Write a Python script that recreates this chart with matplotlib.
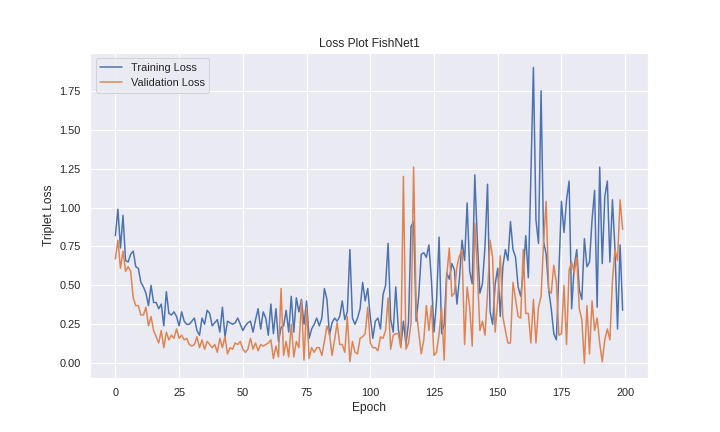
import matplotlib
matplotlib.use("Agg")
import matplotlib.pyplot as plt
import seaborn as sns
import numpy as np

train_loss = [
    0.82, 0.99, 0.74, 0.95, 0.66, 0.65, 0.70, 0.72, 0.62, 0.61,
    0.52, 0.49, 0.45, 0.37, 0.50, 0.39, 0.39, 0.35, 0.38, 0.24,
    0.46, 0.32, 0.31, 0.33, 0.30, 0.24, 0.33, 0.27, 0.25, 0.25,
    0.27, 0.29, 0.21, 0.18, 0.29, 0.25, 0.34, 0.32, 0.24, 0.26,
    0.28, 0.20, 0.36, 0.17, 0.27, 0.26, 0.25, 0.26, 0.29, 0.25,
    0.21, 0.24, 0.26, 0.27, 0.20, 0.28, 0.35, 0.22, 0.33, 0.29,
    0.18, 0.38, 0.19, 0.35, 0.14, 0.23, 0.24, 0.34, 0.20, 0.43,
    0.20, 0.42, 0.33, 0.41, 0.25, 0.40, 0.16, 0.22, 0.25, 0.29,
    0.24, 0.29, 0.48, 0.41, 0.18, 0.26, 0.29, 0.27, 0.30, 0.40,
    0.28, 0.33, 0.73, 0.29, 0.25, 0.29, 0.35, 0.52, 0.40, 0.48,
    0.30, 0.16, 0.27, 0.29, 0.22, 0.44, 0.50, 0.77, 0.28, 0.20,
    0.49, 0.22, 0.11, 0.27, 0.12, 0.26, 0.88, 0.91, 0.27, 0.43,
    0.70, 0.71, 0.68, 0.76, 0.53, 0.20, 0.40, 0.81, 0.19, 0.25,
    0.58, 0.54, 0.64, 0.60, 0.38, 0.55, 0.79, 0.66, 1.03, 0.59,
    0.51, 1.21, 0.79, 0.45, 0.51, 0.75, 1.15, 0.33, 0.25, 0.51,
    0.61, 0.30, 0.62, 0.73, 0.66, 0.91, 0.73, 0.68, 0.49, 0.43,
    0.58, 0.82, 0.55, 1.20, 1.90, 0.92, 0.77, 1.75, 0.78, 0.70,
    0.47, 0.35, 0.19, 0.15, 0.60, 1.04, 0.84, 1.05, 1.17, 0.35,
    0.62, 0.73, 0.47, 0.41, 0.80, 0.62, 0.65, 0.92, 1.11, 0.36,
    1.26, 0.64, 1.07, 1.17, 0.65, 1.05, 0.73, 0.22, 0.76, 0.34,
]

val_loss = [
    0.67, 0.79, 0.61, 0.72, 0.59, 0.62, 0.59, 0.42, 0.37, 0.37,
    0.31, 0.31, 0.36, 0.24, 0.30, 0.21, 0.17, 0.13, 0.21, 0.10,
    0.20, 0.15, 0.18, 0.16, 0.22, 0.16, 0.18, 0.15, 0.16, 0.12,
    0.11, 0.12, 0.17, 0.10, 0.15, 0.09, 0.14, 0.12, 0.10, 0.12,
    0.07, 0.16, 0.10, 0.17, 0.06, 0.10, 0.09, 0.13, 0.12, 0.14,
    0.09, 0.07, 0.09, 0.16, 0.09, 0.13, 0.08, 0.12, 0.11, 0.12,
    0.13, 0.15, 0.03, 0.11, 0.04, 0.48, 0.05, 0.14, 0.04, 0.25,
    0.04, 0.14, 0.10, 0.40, 0.02, 0.36, 0.03, 0.10, 0.07, 0.10,
    0.10, 0.05, 0.14, 0.24, 0.19, 0.05, 0.15, 0.26, 0.12, 0.12,
    0.07, 0.30, 0.01, 0.14, 0.07, 0.06, 0.16, 0.17, 0.19, 0.36,
    0.13, 0.10, 0.10, 0.08, 0.17, 0.16, 0.21, 0.42, 0.09, 0.18,
    0.19, 0.19, 0.10, 1.20, 0.09, 0.13, 0.26, 1.26, 0.35, 0.20,
    0.06, 0.15, 0.37, 0.21, 0.37, 0.05, 0.07, 0.19, 0.35, 0.02,
    0.56, 0.74, 0.43, 0.45, 0.62, 0.69, 0.73, 0.12, 0.49, 0.36,
    0.11, 0.90, 0.60, 0.21, 0.27, 0.18, 0.45, 0.79, 0.68, 0.20,
    0.41, 0.69, 0.30, 0.21, 0.13, 0.13, 0.52, 0.41, 0.30, 0.29,
    0.73, 0.32, 0.32, 0.13, 0.41, 0.13, 0.36, 0.43, 0.78, 1.04,
    0.47, 0.45, 0.63, 0.52, 0.18, 0.19, 0.50, 0.12, 0.60, 0.65,
    0.58, 0.68, 0.35, 0.28, 0.00, 0.37, 0.06, 0.40, 0.21, 0.29,
    0.13, 0.01, 0.15, 0.22, 0.15, 0.53, 0.73, 0.66, 1.05, 0.86,
]

epochs = np.arange(len(train_loss))

sns.set_theme(style="darkgrid", context="notebook")
plt.rcParams['font.family'] = ['Liberation Sans', 'DejaVu Sans']

fig, ax = plt.subplots(figsize=(10, 6), dpi=72)
fig.subplots_adjust(left=0.125, right=0.9, bottom=0.125, top=0.878)
ax.plot(epochs, train_loss, label="Training Loss", color="#4c72b0", linewidth=1.5)
ax.plot(epochs, val_loss, label="Validation Loss", color="#dd8452", linewidth=1.5)
ax.set_title("Loss Plot FishNet1", fontsize=12)
ax.set_xlabel("Epoch", fontsize=12)
ax.set_ylabel("Triplet Loss", fontsize=12)
ax.tick_params(labelsize=11)
ax.set_xticks([0, 25, 50, 75, 100, 125, 150, 175, 200])
ax.legend(loc="upper left", fontsize=11)
fig.savefig("out.png", dpi=72)
